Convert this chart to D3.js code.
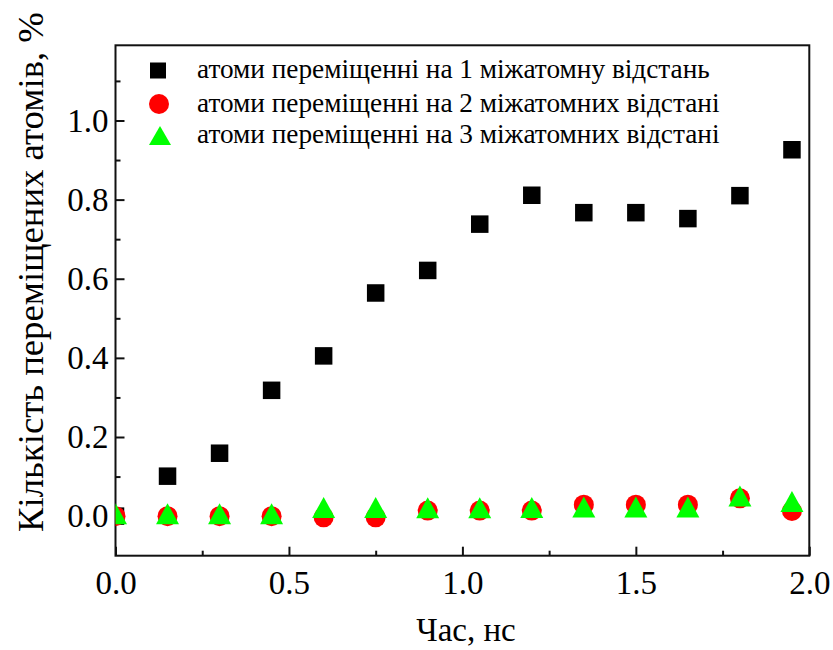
<!DOCTYPE html>
<html>
<head>
<meta charset="utf-8">
<script src="https://cdn.jsdelivr.net/npm/d3@7"></script>
</head>
<body style="margin:0;background:#fff">
<svg id="chart" width="833" height="650"></svg>
<script>
// ---- data ----
const timeNs = [0, 0.15, 0.3, 0.45, 0.6, 0.75, 0.9, 1.05, 1.2, 1.35, 1.5, 1.65, 1.8, 1.95];
const dist1 = [0, 0.101, 0.159, 0.318, 0.405, 0.564, 0.621, 0.738, 0.811, 0.767, 0.767, 0.752, 0.81, 0.926];
const dist2 = [0, 0, 0, 0, -0.003, -0.003, 0.014, 0.014, 0.014, 0.029, 0.029, 0.029, 0.045, 0.013];
const dist3 = [0.006, 0.006, 0.006, 0.006, 0.022, 0.022, 0.021, 0.021, 0.022, 0.023, 0.023, 0.023, 0.051, 0.037];
const seriesNames = [
  "атоми переміщенні на 1 міжатомну відстань",
  "атоми переміщенні на 2 міжатомних відстані",
  "атоми переміщенні на 3 міжатомних відстані"
];
const xTicks = [0, 0.5, 1.0, 1.5, 2.0];
const xMinor = [0.25, 0.75, 1.25, 1.75];
const yTicks = [0, 0.2, 0.4, 0.6, 0.8, 1.0];
const yMinor = [0.1, 0.3, 0.5, 0.7, 0.9, 1.1];
const xTitle = "Час, нс";
const yTitle = "Кількість переміщених атомів, %";

// ---- layout ----
const FONT = "'Times New Roman'";
const L = 115.5, R = 809.3, T = 45.3, B = 555.7;
const svg = d3.select("#chart");
const x = d3.scaleLinear().domain([0, 2.0]).range([L, R]);
const y = d3.scaleLinear().domain([-0.1, 1.19]).range([B, T]);

svg.append("defs").append("clipPath").attr("id", "plotclip")
  .append("rect").attr("x", L).attr("y", T).attr("width", R - L).attr("height", B - T);

const fmt = d3.format(".1f");

// axes (ticks inward)
const xAxis = svg.append("g").attr("transform", `translate(0,${B})`)
  .call(d3.axisBottom(x).tickValues(xTicks).tickFormat(fmt).tickSizeInner(-9).tickSizeOuter(0).tickPadding(15));
const xAxisMinor = svg.append("g").attr("transform", `translate(0,${B})`)
  .call(d3.axisBottom(x).tickValues(xMinor).tickFormat("").tickSizeInner(-5).tickSizeOuter(0));
const yAxis = svg.append("g").attr("transform", `translate(${L},0)`)
  .call(d3.axisLeft(y).tickValues(yTicks).tickFormat(fmt).tickSizeInner(-9).tickSizeOuter(0).tickPadding(7));
const yAxisMinor = svg.append("g").attr("transform", `translate(${L},0)`)
  .call(d3.axisLeft(y).tickValues(yMinor).tickFormat("").tickSizeInner(-5).tickSizeOuter(0));

[xAxis, xAxisMinor, yAxis, yAxisMinor].forEach(g => {
  g.attr("font-family", null).attr("font-size", null);
  g.select(".domain").remove();
  g.selectAll(".tick line").attr("stroke", "#111").attr("stroke-width", 2);
  g.selectAll(".tick text").style("font-family", FONT).style("font-size", "33px").attr("fill", "#000");
});

// frame
svg.append("rect").attr("x", L).attr("y", T).attr("width", R - L).attr("height", B - T)
  .attr("fill", "none").attr("stroke", "#111").attr("stroke-width", 2);

// markers
const sq = 17.5, circR = 10, triW = 23, triH = 21;
function triPath(cx, cy, w, h) {
  return `M${cx},${cy - h / 2}L${cx + w / 2},${cy + h / 2}L${cx - w / 2},${cy + h / 2}Z`;
}
const plot = svg.append("g").attr("clip-path", "url(#plotclip)");
plot.selectAll("rect.s1").data(timeNs.map((t, i) => [t, dist1[i]])).enter().append("rect")
  .attr("x", d => x(d[0]) - sq / 2).attr("y", d => y(d[1]) - sq / 2)
  .attr("width", sq).attr("height", sq).attr("fill", "#000");
plot.selectAll("circle.s2").data(timeNs.map((t, i) => [t, dist2[i]])).enter().append("circle")
  .attr("cx", d => x(d[0])).attr("cy", d => y(d[1])).attr("r", circR).attr("fill", "#ff0000");
plot.selectAll("path.s3").data(timeNs.map((t, i) => [t, dist3[i]])).enter().append("path")
  .attr("d", d => triPath(x(d[0]), y(d[1]), triW, triH)).attr("fill", "#00ff00");

// fit a text's font size so its length matches a target
function fitText(sel, target, base) {
  sel.style("font-size", base + "px");
  const len = sel.node().getComputedTextLength();
  if (len > 0) sel.style("font-size", (base * target / len).toFixed(2) + "px");
  return sel;
}

// legend
const legY = [70.5, 104, 135.5];
const lg = svg.append("g");
lg.append("rect").attr("x", 158 - 8).attr("y", legY[0] - 8).attr("width", 16).attr("height", 16).attr("fill", "#000");
lg.append("circle").attr("cx", 159).attr("cy", legY[1]).attr("r", 10).attr("fill", "#ff0000");
lg.append("path").attr("d", triPath(160, legY[2], 22, 19)).attr("fill", "#00ff00");
const legTexts = seriesNames.map((n, i) =>
  lg.append("text").attr("x", 197).attr("y", legY[i] + 7.5).style("font-family", FONT).text(n));
fitText(legTexts[0], 513, 24);
const legSize = legTexts[0].style("font-size");
legTexts.forEach(t => t.style("font-size", legSize));

// axis titles
svg.append("text").attr("x", 466).attr("y", 641).attr("text-anchor", "middle")
  .style("font-family", FONT).style("font-size", "33px").text(xTitle);
const yt = svg.append("text").attr("transform", `translate(43,272) rotate(-90)`)
  .attr("text-anchor", "middle").style("font-family", FONT).text(yTitle);
fitText(yt, 520, 33);
</script>
</body>
</html>
